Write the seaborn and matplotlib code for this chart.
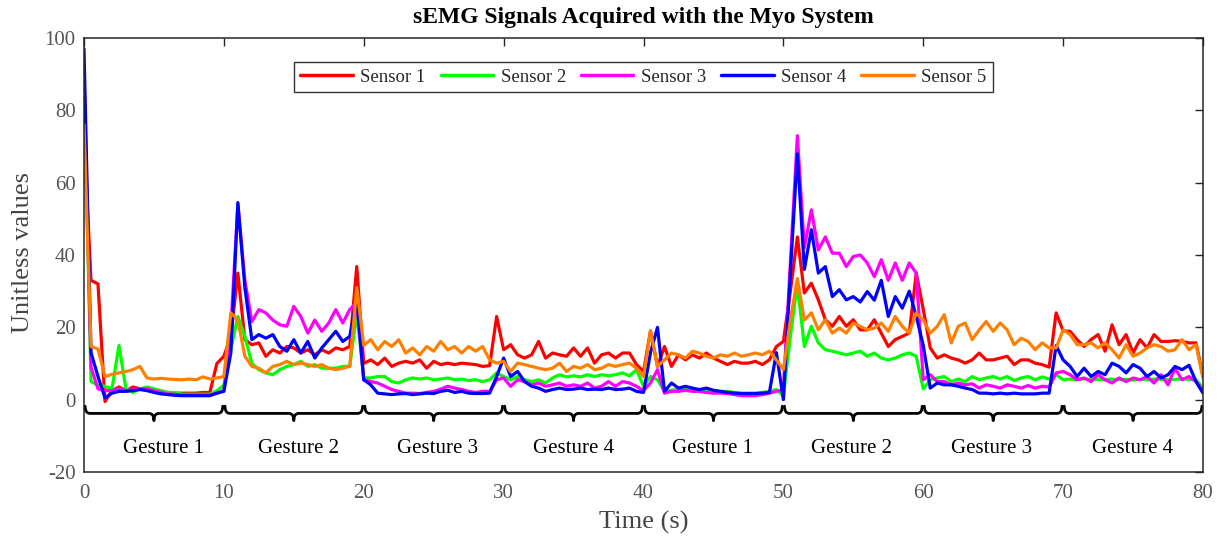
import numpy as np
import pandas as pd
import matplotlib
matplotlib.use("Agg")
import matplotlib.pyplot as plt
from matplotlib.path import Path
from matplotlib.patches import PathPatch
import seaborn as sns

# ---------------- data (sampled every 0.5 s, 0..80 s) ----------------
time = np.arange(0, 80.01, 0.5)

sensor1 = [
    73, 33, 32, -0.5, 2.5, 3.5, 2.5, 3.5, 3, 3, 2.5, 2, 2, 1.8, 1.8, 1.8, 1.8, 2, 2, 10,
    12, 17.5, 35, 16.6, 15.2, 15.7, 12, 13.8, 12.9, 14.7, 14.3, 12.9, 13.8, 12.4, 13.8, 12.9, 14.3, 13.8, 14.7, 36.8,
    10, 11, 9.7, 11.5, 9.2, 10.1, 10.6, 10.1, 11, 8.7, 10.6, 9.7, 10.1, 9.7, 10.1, 9.9, 9.7, 9.2, 9.4, 23,
    13.8, 15.2, 12.4, 11.5, 12.4, 16.1, 11.5, 12.9, 12.4, 12, 14.3, 12, 14.3, 10.1, 12.4, 12.9, 11.5, 12.9, 12.9, 9.7,
    7.8, 19, 9.2, 14.7, 9.2, 12.4, 11, 12.4, 11.5, 12.9, 11.5, 10.6, 9.7, 10.6, 10.1, 10.1, 10.6, 9.7, 11, 14.7,
    16.1, 30, 45, 29.5, 32.2, 27.6, 22.1, 20.3, 23, 20.3, 22.1, 19.3, 19.3, 22.1, 18.4, 14.7, 16.6, 17.5, 18.4, 35,
    25, 14.3, 11.5, 12.4, 11.5, 11, 10.1, 11, 12.9, 11, 11, 11.5, 12, 9.7, 11, 11, 10.1, 9.7, 9, 24,
    19, 18.9, 16.6, 14.7, 16.6, 18, 13.4, 20.7, 15.2, 18, 12.9, 16.6, 14.3, 18, 16.1, 16.1, 16.3, 16.1, 15.7, 15.7,
    6.4]

sensor2 = [
    88, 5, 4, 3.7, 3, 15, 3, 2, 3, 3.5, 3, 2.5, 2, 2, 1.5, 1.5, 1.5, 1.5, 1.5, 2.5,
    4, 14, 23, 17.5, 10, 8.3, 7.4, 6.9, 8.3, 9.2, 9.7, 10.6, 9.2, 9.7, 8.7, 8.7, 8.7, 9.2, 9.2, 24,
    6, 6, 6.4, 6.4, 5, 4.6, 5.5, 6, 5.7, 6, 5.5, 5.7, 6, 5.5, 5.7, 5.3, 5.5, 5, 5.5, 7.4,
    6.4, 5.5, 6.4, 5.5, 5, 5.5, 4.6, 6, 6.9, 6.3, 6.6, 6.3, 6.9, 6.4, 6.9, 6.6, 6.9, 7.4, 6.6, 8.3,
    3.7, 6.4, 5.5, 2.3, 2.6, 2.9, 2.8, 2.6, 2.6, 2.3, 2.3, 2.3, 2.3, 2, 1.8, 1.8, 1.8, 2, 2.3, 2.8,
    1, 17.5, 32, 14.7, 20.3, 15.7, 13.8, 13.4, 12.9, 12.4, 12.9, 13.4, 12, 12.9, 11.5, 11, 11.5, 12.4, 12.9, 12,
    3, 5.5, 6, 6.4, 5, 5.7, 5, 6.4, 5.5, 6, 6.4, 5.7, 6.4, 5.3, 6, 6.4, 5.5, 6.3, 5.7, 6.9,
    5.5, 5.7, 5.5, 5.8, 5.5, 5.6, 5.5, 5.7, 5.5, 5.6, 5.4, 5.6, 5.5, 5.7, 5.6, 5.5, 5.6, 5.8, 5.6, 5.5,
    3.2]

sensor3 = [
    90, 9, 3, 2.5, 2.5, 3, 2.5, 2.8, 3, 3, 2.5, 2, 1.6, 1.5, 1.3, 1.3, 1.3, 1.3, 1.3, 1.8,
    2.5, 20, 54, 33, 21.6, 24.9, 24, 22, 20.7, 20.3, 25.8, 23, 18.4, 22, 18.9, 21.2, 24.9, 21.2, 24.9, 27,
    5.5, 5, 4.6, 3.7, 2.8, 2.3, 1.8, 1.8, 1.7, 2, 2.3, 2.9, 3.7, 3.2, 2.8, 2.3, 2, 2.3, 2.3, 5.5,
    6, 3.7, 5.5, 5, 4.1, 4.6, 3.7, 4.1, 4.6, 3.7, 4.1, 3.7, 4.6, 3.2, 3.7, 5, 3.7, 5, 4.6, 3.7,
    2.5, 4.6, 8.3, 1.8, 2.3, 2.3, 2.6, 2.3, 2.3, 2, 1.8, 1.8, 1.7, 1.4, 1.1, 1.1, 1.1, 1.4, 1.8, 2.3,
    2.8, 38, 73, 42, 52.5, 41.4, 45, 40.5, 40.5, 36.8, 39.6, 40, 37.8, 34, 38.7, 33, 37.8, 33, 37.8, 35,
    5.5, 6.9, 5, 5, 4.1, 4.6, 4.1, 4.4, 3.2, 4.1, 3.7, 3.2, 4.1, 3.7, 3.2, 3.9, 3.2, 3.7, 3.5, 7.4,
    7.8, 6.9, 5.5, 6, 5, 6.9, 5.5, 4.6, 6, 5, 6, 5.5, 6.4, 4.6, 6.9, 4.1, 8.7, 5.5, 6.4, 5,
    2.3]

sensor4 = [
    97, 13, 6.4, 0.5, 1.8, 2.3, 2.3, 2.5, 2.8, 2.5, 2, 1.6, 1.4, 1.2, 1.1, 1.1, 1.1, 1.1, 1.1, 1.8,
    2.3, 13, 54.5, 31, 16.6, 18, 17, 18, 14.7, 13.4, 16.6, 12.9, 16.1, 11.5, 14.3, 16.6, 18.9, 16.1, 17.5, 28,
    5.5, 4.1, 1.8, 1.6, 1.4, 1.6, 1.7, 1.4, 1.6, 1.8, 1.7, 2.3, 2.6, 2, 2.3, 1.8, 1.7, 1.7, 1.8, 6.4,
    11.5, 6.4, 7.8, 5, 3.7, 3.2, 2.3, 2.8, 3.2, 2.8, 2.9, 3.2, 2.8, 2.9, 2.8, 3.2, 2.8, 2.9, 3.2, 2.3,
    2, 13, 20, 2.3, 4.6, 3.2, 3.7, 3.2, 2.8, 3.2, 2.6, 2.3, 2, 1.8, 1.7, 1.7, 1.7, 1.8, 2, 13,
    0, 35, 68, 36, 47, 35, 36.8, 28.5, 30.4, 27.6, 28.5, 27, 29.9, 27.5, 33, 23, 28.5, 25.3, 30, 23,
    15, 3.2, 4.6, 4.1, 4.1, 3.7, 3.2, 2.8, 1.8, 1.8, 1.6, 1.8, 1.6, 1.8, 1.6, 1.6, 1.6, 1.8, 1.8, 15,
    11, 9.2, 6.4, 8.7, 6.4, 7.8, 6.9, 10.1, 9.2, 7.4, 9.7, 8.7, 6.4, 7.8, 6, 6.9, 9.2, 8.3, 9.5, 5,
    1.8]

sensor5 = [
    76, 14.7, 14, 6.4, 7, 7.4, 7.8, 8.3, 9.2, 6, 5.7, 5.9, 5.7, 5.6, 5.5, 5.7, 5.5, 6.3, 5.7, 6,
    6.4, 24, 22, 12, 9.2, 8.7, 7.4, 9.2, 9.7, 10.6, 9.7, 10.1, 9.7, 9.2, 9.7, 8.7, 8.3, 8.7, 9.2, 31,
    15, 16.6, 13.8, 16.1, 14.7, 16.6, 12.9, 14.3, 12.4, 14.7, 13.4, 16.1, 13.8, 14.7, 12.9, 14.7, 13.4, 14.7, 11, 10.1,
    10.6, 7.8, 10.1, 9.7, 9.2, 8.7, 8.3, 8.7, 10.1, 7.8, 9.2, 8.7, 9.7, 8.3, 8.7, 9.7, 9.2, 9.7, 10.1, 8.7,
    6.4, 19, 9.2, 11, 12.9, 12.4, 11.5, 13.4, 12.9, 12, 11.5, 12.4, 12, 12.9, 12, 12.4, 12.9, 12.4, 13.4, 11,
    8.3, 22, 33.5, 22, 24, 19.3, 22.1, 18.4, 19.8, 18.4, 21.2, 20.3, 19.3, 19.8, 21.2, 18.9, 23, 20.3, 18.4, 24,
    22, 18.4, 20.3, 23.5, 15.7, 20.3, 21.2, 16.6, 19.3, 21.6, 18.9, 21.2, 19.3, 15.2, 17, 16.1, 13.8, 15.7, 14.3, 14.3,
    19.3, 18, 15.2, 15.2, 15.7, 14.3, 15.7, 13.8, 11.5, 15.2, 12, 12.9, 14.3, 15.2, 14.7, 13.4, 13.8, 16.6, 13.8, 15.2,
    6]

sensor_names = ["Sensor 1", "Sensor 2", "Sensor 3", "Sensor 4", "Sensor 5"]
sensor_colors = ["#ff0000", "#00ff00", "#ff00ff", "#0000ff", "#ff8000"]
gesture_labels = ["Gesture 1", "Gesture 2", "Gesture 3", "Gesture 4",
                  "Gesture 1", "Gesture 2", "Gesture 3", "Gesture 4"]
gesture_bounds = [0, 10, 20, 30, 40, 50, 60, 70, 80]
gesture_label_x = [5.7, 15.3, 25.3, 35.0, 44.9, 54.9, 64.9, 75.0]
x_ticks = [0, 10, 20, 30, 40, 50, 60, 70, 80]
y_ticks = [-20, 0, 20, 40, 60, 80, 100]

# ---------------- build frame ----------------
series = [sensor1, sensor2, sensor3, sensor4, sensor5]
frames = []
for name, vals in zip(sensor_names, series):
    frames.append(pd.DataFrame({"Time": time, "Value": vals, "Sensor": name}))
df = pd.concat(frames, ignore_index=True)

# ---------------- style ----------------
sns.set_theme(style="white")
plt.rcParams["font.family"] = ["Liberation Serif", "DejaVu Serif"]
plt.rcParams["axes.unicode_minus"] = False

W, H = 1222, 541
fig = plt.figure(figsize=(W / 100, H / 100), dpi=100)
ax = fig.add_axes([84 / W, 1 - 472 / H, (1203 - 84) / W, (472 - 38) / H])

sns.lineplot(data=df, x="Time", y="Value", hue="Sensor", hue_order=sensor_names,
             palette=dict(zip(sensor_names, sensor_colors)), estimator=None,
             sort=False, linewidth=2.3, ax=ax)

ax.set_xlim(0, 80)
ax.set_ylim(-20, 100)
ax.set_xticks(x_ticks)
ax.set_yticks(y_ticks)
axis_col = "#262626"
ax.tick_params(direction="in", top=True, right=True, length=6, width=1,
               colors=axis_col, labelcolor="#555555", labelsize=15)
ax.tick_params(axis="x", pad=9)
ax.tick_params(axis="y", pad=6)
for s in ax.spines.values():
    s.set_visible(True)
    s.set_color(axis_col)
    s.set_linewidth(1.1)
ax.set_xlabel("")
ax.set_ylabel("")

fig.text((84 + 1203) / 2 / W, 1 - 522 / H, "Time (s)", ha="center", va="center",
         fontsize=19, color="#444444")
fig.text(23 / W, 1 - 253 / H, "Unitless values", ha="center", va="center",
         rotation=90, fontsize=19, color="#444444")
fig.text((84 + 1203) / 2 / W, 1 - 18 / H, "sEMG Signals Acquired with the Myo System",
         ha="center", va="center", fontsize=17, fontweight="bold", color="black")

# legend
handles, labels = ax.get_legend_handles_labels()
leg = ax.legend(handles, labels, loc="upper center", bbox_to_anchor=(0.5, (472 - 62) / (472 - 38)),
                ncol=5, frameon=True, fancybox=False, fontsize=13.5, handlelength=2.8,
                handletextpad=0.4, columnspacing=0.8, borderaxespad=0, borderpad=0.35)
leg.get_frame().set_edgecolor("black")
leg.get_frame().set_linewidth(1.0)
for line in leg.get_lines():
    line.set_linewidth(2.5)

# braces + gesture labels
y_top, y_line, y_tip, r = -1.8, -3.8, -5.8, 0.35
for i, lab in enumerate(gesture_labels):
    x0 = gesture_bounds[i] + 0.08
    x1 = gesture_bounds[i + 1] - 0.08
    xm = (gesture_bounds[i] + gesture_bounds[i + 1]) / 2
    verts = [(x0, y_top), (x0, y_line), (x0 + r, y_line),
             (xm - r, y_line), (xm, y_line), (xm, y_tip),
             (xm, y_line), (xm + r, y_line),
             (x1 - r, y_line), (x1, y_line), (x1, y_top)]
    codes = [Path.MOVETO, Path.CURVE3, Path.CURVE3,
             Path.LINETO, Path.CURVE3, Path.CURVE3,
             Path.CURVE3, Path.CURVE3,
             Path.LINETO, Path.CURVE3, Path.CURVE3]
    ax.add_patch(PathPatch(Path(verts, codes), facecolor="none", edgecolor="black",
                           linewidth=2.0, capstyle="round", joinstyle="round", clip_on=False))
    ax.text(gesture_label_x[i], -13.6, lab, ha="center", va="center", fontsize=15, color="black")

fig.savefig("out.png", dpi=100)
